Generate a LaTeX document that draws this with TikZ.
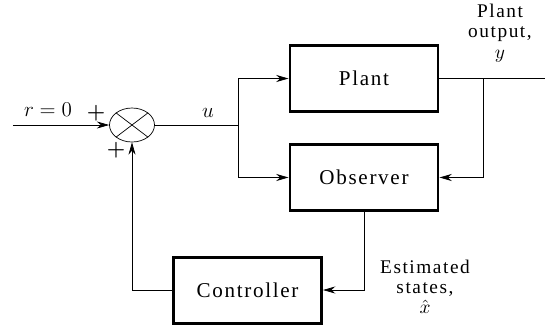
\documentclass[tikz,border=0pt]{standalone}
\usepackage{fontspec}
\setmainfont{Liberation Serif}[LetterSpace=8]
\usepackage{amsmath}
\usetikzlibrary{shapes.geometric,arrows.meta,positioning,calc}

\begin{document}
\begin{tikzpicture}[
  box/.style={rectangle, draw, line width=1.7pt, minimum width=2.96cm,
              minimum height=1.32cm, font=\fontsize{12}{14}\selectfont},
  sumnode/.style={ellipse, draw, thin, minimum width=0.9cm, minimum height=0.68cm},
  arr/.style={-{Stealth[length=7pt, width=4pt]}, thin},
  lbl/.style={align=center, font=\fontsize{11}{11.5}\selectfont},
  font=\fontsize{12}{14}\selectfont
]
  \useasboundingbox (0,0) rectangle (10.9,-6.54);

  \node[sumnode] (sum) at (2.64,-2.5) {};
  \node[box] (plant) at (7.28,-1.57) {Plant};
  \node[box, below=0.6cm of plant] (obs) {Observer};
  \node[box] (ctrl) at (4.95,-5.8) {Controller};

  \coordinate (in)  at (0.26,-2.5);
  \coordinate (br)  at (4.76,-2.5);
  \coordinate (tap) at (9.66,-1.57);
  \coordinate (out) at (10.9,-1.57);

  \draw[thin] (sum.north west) -- (sum.south east)
              (sum.north east) -- (sum.south west);

  \draw[arr] (in)   -- (sum);
  \draw[thin] (sum) -- (br);
  \draw[arr] (br)   |- (plant);
  \draw[arr] (br)   |- (obs);
  \draw[thin] (plant) -- (out);
  \draw[arr] (tap)  |- (obs);
  \draw[arr] (obs)  |- (ctrl);
  \draw[arr] (ctrl) -| (sum);

  \node (ref)   at (0.96,-2.2)  {$r = 0$};
  \node (plus1) at (1.92,-2.26) {$\boldsymbol{+}$};
  \node (plus2) at (2.32,-3.0)  {$\boldsymbol{+}$};
  \node (ulbl)  at (4.16,-2.26) {$u$};
  \node[lbl] (ylbl) at (10.0,-0.66) {Plant\\output,\\$y$};
  \node[lbl] (xlbl) at (8.5,-5.74)  {Estimated\\states,\\$\hat{x}$};
\end{tikzpicture}
\end{document}
